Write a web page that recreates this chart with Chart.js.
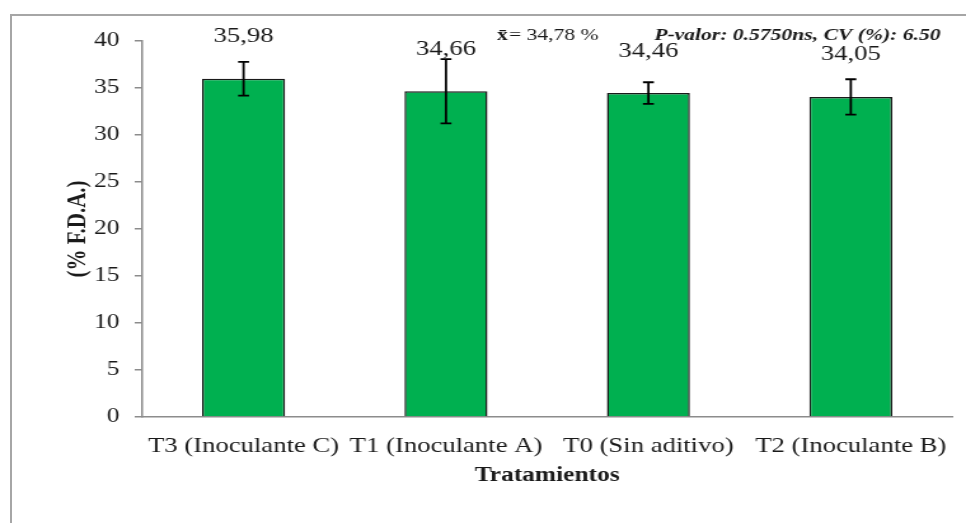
<!DOCTYPE html>
<html>
<head>
<meta charset="utf-8">
<script src="https://cdn.jsdelivr.net/npm/chart.js@4"></script>
<style>
  html, body { margin: 0; padding: 0; background: #fff; overflow: hidden; }
  #wrap { position: relative; width: 966px; height: 523px; }
  #frame { position: absolute; left: 10px; top: 14px; width: 1000px; height: 600px; border: 2px solid #a6a6a6; }
  #chart { position: absolute; left: 0; top: 0; }
</style>
</head>
<body>
<div id="wrap">
  <div id="frame"></div>
  <!-- the original figure is stretched sideways, so the canvas is drawn narrow and widened by css -->
  <canvas id="chart" width="760" height="523" style="width:966px;height:523px"></canvas>
</div>
<script>
const categories = ['T3 (Inoculante C)', 'T1 (Inoculante A)', 'T0 (Sin aditivo)', 'T2 (Inoculante B)'];
const values = [35.98, 34.66, 34.46, 34.05];
const errors = [1.8, 3.42, 1.15, 1.88];
const valueLabels = ['35,98', '34,66', '34,46', '34,05'];
const meanLabel = '= 34,78 %';
const statsLabel = 'P-valor: 0.5750ns, CV (%): 6.50';

const SERIF = '"Liberation Serif", "Times New Roman", serif';
const GREEN = '#00b050';
const AXIS = '#8c8c8c';
const TEXT = '#1a1a1a';
const CAP = 4.3;

const errorBars = {
    id: 'errorBars',
    afterDatasetsDraw(chart) {
        const ctx = chart.ctx;
        const y = chart.scales.y;
        const meta = chart.getDatasetMeta(0);
        ctx.save();
        ctx.strokeStyle = '#000';
        ctx.lineWidth = 1.8;
        meta.data.forEach((bar, i) => {
            const top = y.getPixelForValue(values[i] + errors[i]);
            const bot = y.getPixelForValue(values[i] - errors[i]);
            ctx.beginPath();
            ctx.moveTo(bar.x, top); ctx.lineTo(bar.x, bot);
            ctx.moveTo(bar.x - CAP, top); ctx.lineTo(bar.x + CAP, top);
            ctx.moveTo(bar.x - CAP, bot); ctx.lineTo(bar.x + CAP, bot);
            ctx.stroke();
        });
        ctx.restore();
    }
};

const valueText = {
    id: 'valueText',
    afterDatasetsDraw(chart) {
        const ctx = chart.ctx;
        const meta = chart.getDatasetMeta(0);
        ctx.save();
        ctx.fillStyle = TEXT;
        ctx.font = '21px ' + SERIF;
        ctx.textAlign = 'center';
        ctx.textBaseline = 'middle';
        meta.data.forEach((bar, i) => {
            ctx.fillText(valueLabels[i], bar.x, bar.y - 42);
        });
        ctx.restore();
    }
};

const statsText = {
    id: 'statsText',
    afterDraw(chart) {
        const ctx = chart.ctx;
        const area = chart.chartArea;
        const base = area.top - 1;
        ctx.save();
        ctx.fillStyle = TEXT;
        ctx.textBaseline = 'alphabetic';
        ctx.textAlign = 'left';
        let x = 391;
        ctx.font = 'bold 17px ' + SERIF;
        ctx.fillText('x\u0304', x, base);
        x += ctx.measureText('x').width + 1;
        ctx.font = '17px ' + SERIF;
        ctx.fillText(meanLabel, x, base);
        ctx.font = 'italic bold 17px ' + SERIF;
        ctx.textAlign = 'right';
        ctx.fillText(statsLabel, area.right - 9, base);
        ctx.restore();
    }
};

new Chart(document.getElementById('chart'), {
    type: 'bar',
    data: {
        labels: categories,
        datasets: [{
            data: values,
            backgroundColor: GREEN,
            borderColor: TEXT,
            borderWidth: 1.5,
            barPercentage: 0.41,
            categoryPercentage: 1
        }]
    },
    options: {
        responsive: false,
        animation: false,
        layout: { padding: { left: 40, right: 11, top: 41, bottom: 35 } },
        plugins: {
            legend: { display: false },
            tooltip: { enabled: false }
        },
        scales: {
            x: {
                grid: { display: false },
                border: { display: true, color: AXIS, width: 1.5 },
                ticks: { color: TEXT, padding: 9, maxRotation: 0, autoSkip: false, font: { family: SERIF, size: 21 } },
                title: { display: true, text: 'Tratamientos', color: TEXT, padding: 0, font: { family: SERIF, size: 20, weight: 'bold' } },
                afterFit: s => { s.height = 71; }
            },
            y: {
                min: 0,
                max: 40,
                ticks: { stepSize: 5, color: TEXT, padding: 12, font: { family: SERIF, size: 20 } },
                grid: { drawOnChartArea: false, tickLength: 6, color: AXIS, lineWidth: 1.5 },
                border: { display: true, color: AXIS, width: 1.5 },
                title: { display: true, text: '(% F.D.A.)', color: TEXT, padding: { top: 9, bottom: 0 }, font: { family: SERIF, size: 21, weight: 'bold' } },
                afterFit: s => { s.width = 72; }
            }
        }
    },
    plugins: [errorBars, valueText, statsText]
});
</script>
</body>
</html>
